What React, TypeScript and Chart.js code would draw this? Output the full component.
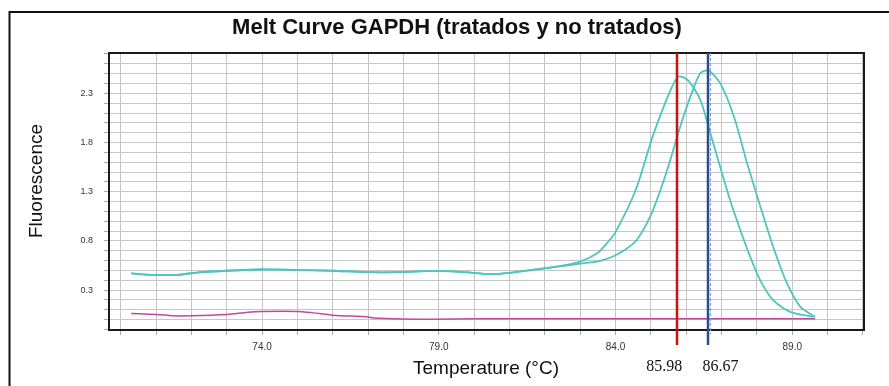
import React, { useEffect, useRef } from "react";
import { Chart, registerables } from "chart.js";

Chart.register(...registerables);

// ---- text ----
const titleText = "Melt Curve GAPDH (tratados y no tratados)";
const xAxisTitle = "Temperature (°C)";
const yAxisTitle = "Fluorescence";

// ---- axis ticks ----
const xLabelTicks = [74, 79, 84, 89];
const yLabelTicks = [0.3, 0.8, 1.3, 1.8, 2.3];

// ---- series: cyan curve with earlier peak ----
const tempsA = [70.3, 70.9, 71.6, 72.2, 73.0, 74.0, 75.1, 76.0, 77.0, 77.9, 78.8, 79.6, 80.5, 81.0, 81.6, 82.1, 82.5, 83.0, 83.5, 83.75, 84.0, 84.57, 85.05, 85.52, 85.78, 86.06, 86.4, 86.68, 86.96, 87.24, 87.53, 87.81, 88.09, 88.46, 88.94, 89.6];
const fluorA = [0.47, 0.455, 0.456, 0.48, 0.497, 0.51, 0.504, 0.497, 0.483, 0.483, 0.495, 0.486, 0.463, 0.476, 0.504, 0.527, 0.55, 0.59, 0.68, 0.775, 0.89, 1.318, 1.86, 2.302, 2.471, 2.43, 2.234, 1.898, 1.555, 1.216, 0.911, 0.639, 0.402, 0.198, 0.079, 0.028];

// ---- series: cyan curve with later peak ----
const tempsB = [70.3, 70.9, 71.6, 72.2, 73.0, 74.0, 75.1, 76.0, 77.0, 77.9, 78.8, 79.6, 80.5, 81.0, 81.6, 82.1, 82.5, 83.0, 83.57, 83.94, 84.27, 84.6, 84.98, 85.27, 85.55, 85.83, 86.12, 86.4, 86.63, 86.96, 87.35, 87.72, 88.1, 88.46, 88.85, 89.23, 89.65];
const fluorB = [0.47, 0.455, 0.456, 0.48, 0.497, 0.51, 0.504, 0.497, 0.483, 0.483, 0.495, 0.486, 0.463, 0.476, 0.504, 0.527, 0.545, 0.57, 0.598, 0.645, 0.71, 0.809, 1.046, 1.318, 1.623, 1.962, 2.267, 2.506, 2.532, 2.404, 2.064, 1.593, 1.148, 0.741, 0.371, 0.13, 0.028];

// ---- series: magenta (no template) ----
const tempsC = [70.3, 71.0, 71.5, 72.0, 73.0, 73.6, 74.0, 75.0, 75.45, 76.0, 77.0, 77.15, 78.0, 78.85, 80.0, 82.0, 84.0, 86.0, 88.0, 89.65];
const fluorC = [0.063, 0.053, 0.039, 0.039, 0.053, 0.076, 0.083, 0.083, 0.069, 0.046, 0.028, 0.018, 0.008, 0.005, 0.01, 0.01, 0.01, 0.01, 0.01, 0.01];

// ---- melt temperature markers ----
const markerTemps = [85.75, 86.63];
const markerLabels = ["85.98", "86.67"];
const markerColors = ["#cc1111", "#2a4d92"];

const toPoints = (xs: number[], ys: number[]) => xs.map((x, i) => ({ x, y: ys[i] }));

const SANS = "Arial, 'Liberation Sans', sans-serif";

const overlayPlugin = {
  id: "overlay",
  beforeDraw(chart: any) {
    const { ctx } = chart;
    ctx.save();
    ctx.fillStyle = "#ffffff";
    ctx.fillRect(0, 0, chart.width, chart.height);
    ctx.strokeStyle = "#111111";
    ctx.lineWidth = 2;
    ctx.beginPath();
    ctx.moveTo(9.5, chart.height + 5);
    ctx.lineTo(9.5, 12);
    ctx.lineTo(chart.width + 5, 12);
    ctx.stroke();
    ctx.restore();
  },
  afterDatasetsDraw(chart: any) {
    const { ctx, chartArea: a, scales } = chart;
    const xs = scales.x;
    ctx.save();
    // plot frame
    ctx.strokeStyle = "#1a1a1a";
    ctx.lineWidth = 2;
    ctx.strokeRect(a.left, a.top, a.right - a.left, a.bottom - a.top);
    // marker lines
    markerTemps.forEach((t, i) => {
      const px = Math.round(xs.getPixelForValue(t));
      ctx.strokeStyle = markerColors[i];
      ctx.lineWidth = 2.5;
      ctx.setLineDash([]);
      ctx.beginPath();
      ctx.moveTo(px, a.top);
      ctx.lineTo(px, a.bottom + 15);
      ctx.stroke();
      if (i === 1) {
        ctx.strokeStyle = "#7f9ccf";
        ctx.lineWidth = 1;
        ctx.setLineDash([3, 2]);
        ctx.beginPath();
        ctx.moveTo(px + 2.5, a.top);
        ctx.lineTo(px + 2.5, a.bottom + 4);
        ctx.stroke();
        ctx.setLineDash([]);
      }
    });
    ctx.restore();
  },
  afterDraw(chart: any) {
    const { ctx, chartArea: a, scales } = chart;
    const xs = scales.x;
    ctx.save();
    ctx.fillStyle = "#111111";
    ctx.textAlign = "center";
    ctx.textBaseline = "middle";
    // title
    ctx.font = `bold 22px ${SANS}`;
    ctx.fillText(titleText, 457, 28);
    // x title
    ctx.font = `19px ${SANS}`;
    ctx.fillText(xAxisTitle, 486, 369);
    // y title
    ctx.save();
    ctx.translate(37, 181);
    ctx.rotate(-Math.PI / 2);
    ctx.fillText(yAxisTitle, 0, 0);
    ctx.restore();
    // marker labels
    ctx.font = "16px 'Liberation Serif', 'Times New Roman', serif";
    const offsets = [-13, 12];
    markerTemps.forEach((t, i) => {
      const px = xs.getPixelForValue(t);
      ctx.fillText(markerLabels[i], px + offsets[i], 367);
    });
    ctx.restore();
  },
};

export default function App() {
  const ref = useRef<HTMLCanvasElement | null>(null);
  useEffect(() => {
    if (!ref.current) return;
    const cyan = "#4cc6be";
    const chart = new Chart(ref.current, {
      type: "line",
      data: {
        datasets: [
          { data: toPoints(tempsC, fluorC), borderColor: "#c4489a", borderWidth: 1.5, pointRadius: 0, tension: 0.3, fill: false },
          { data: toPoints(tempsA, fluorA), borderColor: cyan, borderWidth: 1.8, pointRadius: 0, tension: 0.25, fill: false },
          { data: toPoints(tempsB, fluorB), borderColor: cyan, borderWidth: 1.8, pointRadius: 0, tension: 0.25, fill: false },
        ],
      },
      options: {
        responsive: false,
        animation: false,
        devicePixelRatio: 1,
        layout: { padding: { top: 53, right: 25, left: 0, bottom: 0 } },
        plugins: { legend: { display: false }, title: { display: false }, tooltip: { enabled: false } },
        scales: {
          x: {
            type: "linear",
            min: 69.67,
            max: 91.03,
            border: { display: false },
            grid: { color: "#c6c6c6", lineWidth: 1, drawTicks: true, tickLength: 5, tickColor: "#aaaaaa" },
            ticks: {
              stepSize: 1,
              includeBounds: false,
              autoSkip: false,
              maxRotation: 0,
              padding: 6,
              color: "#333333",
              font: { family: SANS, size: 10 },
              callback: (v: any) => (xLabelTicks.some((t) => Math.abs(t - Number(v)) < 1e-6) ? Number(v).toFixed(1) : ""),
            },
            afterFit: (s: any) => { s.height = 56; },
          },
          y: {
            min: -0.105,
            max: 2.71,
            border: { display: false },
            grid: { color: "#c6c6c6", lineWidth: 1, drawTicks: true, tickLength: 5, tickColor: "#aaaaaa" },
            ticks: {
              stepSize: 0.1,
              includeBounds: false,
              autoSkip: false,
              padding: 11,
              color: "#333333",
              font: { family: SANS, size: 9 },
              callback: (v: any) => (yLabelTicks.some((t) => Math.abs(t - Number(v)) < 1e-6) ? Number(v).toFixed(1) : ""),
            },
            afterFit: (s: any) => { s.width = 109; },
          },
        },
      },
      plugins: [overlayPlugin],
    });
    return () => chart.destroy();
  }, []);
  return (
    <div style={{ position: "absolute", left: 0, top: 0, width: 889, height: 386, background: "#fff" }}>
      <canvas ref={ref} width={889} height={386} style={{ width: 889, height: 386, display: "block" }} />
    </div>
  );
}
